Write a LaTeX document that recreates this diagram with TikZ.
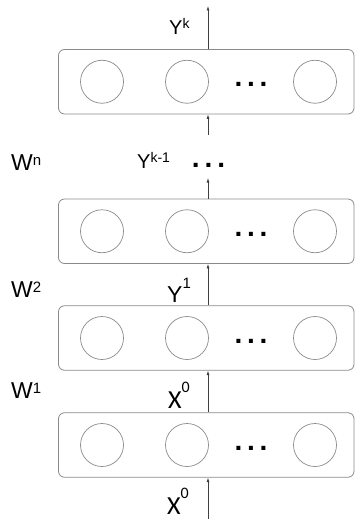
\documentclass[tikz,border=0pt]{standalone}
\usepackage{fontspec}
\setmainfont{Liberation Sans}
\newfontfamily\carlitofont{Carlito}
\usetikzlibrary{arrows.meta}
\newcommand{\supx}[3]{\raisebox{#1}{\fontsize{#2}{#2}\selectfont #3}}
\definecolor{boxgray}{HTML}{8A8A8A}
\definecolor{arrgray}{HTML}{404040}
\tikzset{
  layerbox/.style={draw=boxgray, line width=0.8pt, rounded corners=6pt, minimum width=295.5pt, minimum height=64.5pt, inner sep=0pt},
  unit/.style={draw=boxgray, line width=0.7pt, circle, minimum size=43pt, inner sep=0pt},
  conn/.style={draw=arrgray, line width=0.7pt, -{Latex[length=4.5pt,width=3pt]}},
  lbl/.style={anchor=base west, inner sep=0pt, text=black},
  dotsnode/.style={inner sep=0pt, font=\bfseries\fontsize{28}{28}\selectfont}
}
\begin{document}
\begin{tikzpicture}[x=1pt,y=-1pt]
\useasboundingbox (0,0) rectangle (355,519);
\coordinate (ax) at (208,0);
% layers
\foreach \n/\yc in {1/81.75, 2/231.25, 3/338, 4/445}{
  \node[layerbox] (L\n) at (206.25,\yc) {};
  \node[unit] (c\n a) at (102,\yc) {};
  \node[unit] (c\n b) at (187,\yc) {};
  \node[unit] (c\n d) at (315,\yc) {};
  \node[dotsnode] (d\n) at (251,\yc+3) {.\hspace{4.7pt}.\hspace{4.7pt}.};
}
% connector end points
\coordinate (topend) at (208,6);
\coordinate (mid1) at (208,135);
\coordinate (mid2) at (208,178);
\coordinate (botend) at (208,519);
\draw[conn] (L1.north -| ax) -- (topend);
\draw[conn] (mid1) -- (L1.south -| ax);
\draw[conn] (L2.north -| ax) -- (mid2);
\draw[conn] (L3.north -| ax) -- (L2.south -| ax);
\draw[conn] (L4.north -| ax) -- (L3.south -| ax);
\draw[conn] (botend) -- (L4.south -| ax);
% labels
\node[lbl, font=\fontsize{20}{20}\selectfont] (yk) at (169,35) {Y\supx{6pt}{14}{k}};
\node[lbl, font=\fontsize{20}{20}\selectfont] (ykm) at (137,168) {Y\supx{6pt}{14}{k-1}};
\node[dotsnode] (dm) at (208.5,165) {.\hspace{5pt}.\hspace{5pt}.};
\node[lbl, font=\fontsize{23}{23}\selectfont] (wn) at (11,170) {W\supx{5pt}{15}{n}};
\node[lbl, font=\fontsize{23}{23}\selectfont] (w2) at (11,297) {W\supx{5pt}{15}{2}};
\node[lbl, font=\fontsize{23}{23}\selectfont] (w1) at (11,398) {W\supx{5pt}{15}{1}};
\node[lbl, font=\fontsize{23}{23}\selectfont] (y1) at (167,302.7) {Y\supx{14pt}{15}{1}};
\node[lbl, font=\carlitofont\fontsize{26}{26}\selectfont] (x0a) at (168,408) {X\supx{16pt}{16}{0}};
\node[lbl, font=\carlitofont\fontsize{26}{26}\selectfont] (x0b) at (167,514.5) {X\supx{16pt}{16}{0}};
\end{tikzpicture}
\end{document}
